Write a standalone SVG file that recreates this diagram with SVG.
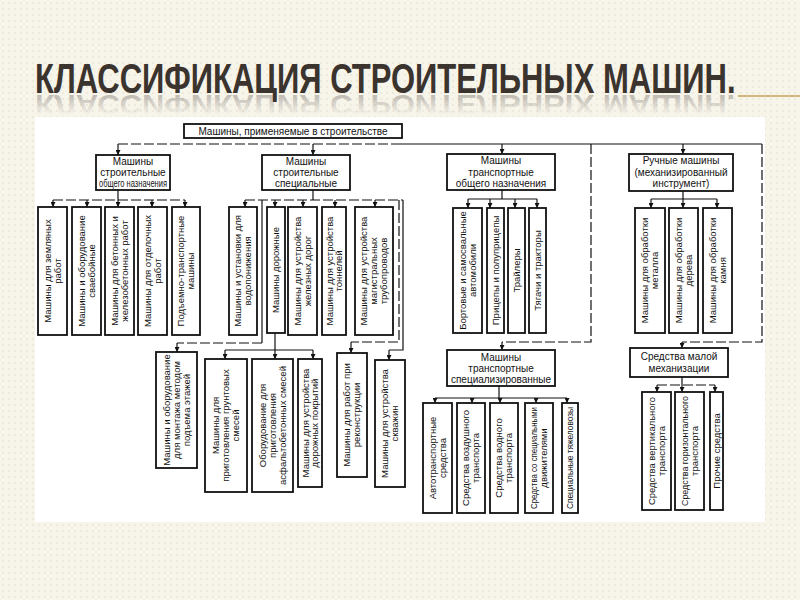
<svg xmlns="http://www.w3.org/2000/svg" width="800" height="600" viewBox="0 0 800 600">
<defs>
<pattern id="dots" width="6" height="6" patternUnits="userSpaceOnUse"><rect width="6" height="6" fill="#f7f4ea"/><circle cx="3" cy="3" r="0.7" fill="#dcd6c6"/></pattern>
<linearGradient id="fade" gradientUnits="userSpaceOnUse" x1="0" y1="0" x2="0" y2="-30"><stop offset="0" stop-color="#3b332e" stop-opacity="0.3"/><stop offset="1" stop-color="#3b332e" stop-opacity="0"/></linearGradient>
<marker id="a" viewBox="0 0 6 6" refX="6" refY="3" markerWidth="5" markerHeight="5" markerUnits="userSpaceOnUse" orient="auto"><path d="M0,0 L6,3 L0,6 z" fill="#111"/></marker>
<style>
.bx{fill:#fff;stroke:#111;stroke-width:1.8}
.ln{fill:none;stroke:#111;stroke-width:1.2}
.ar{fill:none;stroke:#111;stroke-width:1.2;marker-end:url(#a)}
.ds{stroke-dasharray:10 3}
.t{font-family:"Liberation Sans",Arial,sans-serif;font-size:10px;fill:#111;text-anchor:middle}
.v{font-size:9.5px}
.ttl{font-family:"Liberation Sans",Arial,sans-serif;font-weight:bold;font-size:42px}
</style>
</defs>
<rect width="800" height="600" fill="url(#dots)"/>
<rect x="35" y="117" width="730" height="405" fill="#fff"/>

<g id="title">
<text class="ttl" x="0" y="0" transform="translate(35,93) scale(0.738,1)" fill="#3b332e">КЛАССИФИКАЦИЯ СТРОИТЕЛЬНЫХ МАШИН.</text>
<text class="ttl" x="0" y="0" transform="translate(35,95) scale(0.738,-0.65)" fill="url(#fade)">КЛАССИФИКАЦИЯ СТРОИТЕЛЬНЫХ МАШИН.</text>
<line x1="738" y1="96" x2="800" y2="96" stroke="#c9a35a" stroke-width="1.5"/>
</g>

<g id="connectors">
<path class="ln ds" d="M118,144 H400"/>
<path class="ln" d="M400,144 H762"/>
<path class="ar" d="M118,144 V155"/>
<path class="ar" d="M313,144 V155"/>
<path class="ar" d="M502,144 V154"/>
<path class="ar" d="M683,144 V154"/>
<path class="ln ds" d="M591,144 V342 H502"/>
<path class="ar" d="M502,342 V350"/>
<path class="ln ds" d="M762,144 V342 H682"/>
<path class="ar" d="M682,342 V348"/>
<path class="ln" d="M118,190 V200"/>
<path class="ln ds" d="M53,200 H185"/>
<path class="ar" d="M53,200 V207"/><path class="ar" d="M87,200 V207"/><path class="ar" d="M118,200 V207"/><path class="ar" d="M152,200 V207"/><path class="ar" d="M185,200 V207"/>
<path class="ln" d="M313,190 V200"/>
<path class="ln ds" d="M245,200 H403"/>
<path class="ar" d="M245,200 V207"/><path class="ar" d="M275,200 V207"/><path class="ar" d="M303,200 V207"/><path class="ar" d="M335,200 V207"/><path class="ar" d="M375,200 V207"/>
<path class="ln" d="M262,200 V343"/>
<path class="ln ds" d="M262,343 H177"/>
<path class="ar" d="M177,343 V352"/>
<path class="ln" d="M275,333 V350"/>
<path class="ln" d="M225,350 H313"/>
<path class="ar" d="M225,350 V359"/><path class="ar" d="M275,350 V359"/><path class="ar" d="M313,350 V359"/>
<path class="ln ds" d="M399,200 V342 H351"/>
<path class="ar" d="M351,342 V353"/>
<path class="ln" d="M403,200 V350 H389"/>
<path class="ar" d="M389,350 V360"/>
<path class="ln" d="M502,190 V199"/>
<path class="ln" d="M468,199 H537"/>
<path class="ar" d="M468,199 V208"/><path class="ar" d="M490,199 V208"/><path class="ar" d="M515,199 V208"/><path class="ar" d="M537,199 V208"/>
<path class="ln" d="M683,191 V199"/>
<path class="ln" d="M651,199 H717"/>
<path class="ar" d="M651,199 V208"/><path class="ar" d="M683,199 V208"/><path class="ar" d="M717,199 V208"/>
<path class="ln" d="M499,386 V398"/>
<path class="ln" d="M435,398 H567"/>
<path class="ar" d="M435,398 V403"/><path class="ar" d="M472,398 V403"/><path class="ar" d="M500,398 V403"/><path class="ar" d="M536,398 V403"/><path class="ar" d="M567,398 V403"/>
<path class="ln" d="M682,377 V385"/>
<path class="ln ds" d="M657,385 H715"/>
<path class="ar" d="M657,385 V392"/><path class="ar" d="M682,385 V392"/><path class="ar" d="M715,385 V392"/>
</g>

<g id="root"><rect class="bx" x="184" y="124" width="218" height="14"/><text class="t" x="293" y="134.5" font-size="9.5">Машины, применяемые в строительстве</text></g>

<g id="general"><rect class="bx" x="96" y="155" width="74" height="35"/><text class="t" x="133" y="165">Машины</text><text class="t" x="133" y="176">строительные</text><text class="t" x="133" y="187" textLength="68" lengthAdjust="spacingAndGlyphs">общего назначения</text></g>
<g id="special"><rect class="bx" x="262" y="155" width="88" height="35"/><text class="t" x="306" y="165">Машины</text><text class="t" x="306" y="176">строительные</text><text class="t" x="306" y="187">специальные</text></g>
<g id="transport"><rect class="bx" x="447" y="154" width="108" height="36"/><text class="t" x="501" y="164">Машины</text><text class="t" x="501" y="175.5">транспортные</text><text class="t" x="501" y="187">общего назначения</text></g>
<g id="manual"><rect class="bx" x="629" y="154" width="104" height="37"/><text class="t" x="681" y="164">Ручные машины</text><text class="t" x="681" y="175.5">(механизированный</text><text class="t" x="681" y="187">инструмент)</text></g>
<g id="tspec"><rect class="bx" x="447" y="350" width="108" height="36"/><text class="t" x="501" y="361">Машины</text><text class="t" x="501" y="372">транспортные</text><text class="t" x="501" y="383">специализированные</text></g>
<g id="smallmech"><rect class="bx" x="630" y="348" width="98" height="29"/><text class="t" x="679" y="360">Средства малой</text><text class="t" x="679" y="372">механизации</text></g>

<g id="a1"><rect class="bx" x="38" y="207" width="29" height="128"/><text class="t v" transform="translate(52.5,271) rotate(-90)"><tspan x="0" y="-1.8">Машины для земляных</tspan><tspan x="0" y="8.2">работ</tspan></text></g>
<g id="a2"><rect class="bx" x="72" y="207" width="29" height="128"/><text class="t v" transform="translate(86.5,271) rotate(-90)"><tspan x="0" y="-1.8">Машины и оборудование</tspan><tspan x="0" y="8.2">сваебойные</tspan></text></g>
<g id="a3"><rect class="bx" x="105" y="207" width="29" height="128"/><text class="t v" transform="translate(119.5,271) rotate(-90)"><tspan x="0" y="-1.8">Машины для бетонных и</tspan><tspan x="0" y="8.2">железобетонных работ</tspan></text></g>
<g id="a4"><rect class="bx" x="138" y="207" width="29" height="128"/><text class="t v" transform="translate(152.5,271) rotate(-90)"><tspan x="0" y="-1.8">Машины для отделочных</tspan><tspan x="0" y="8.2">работ</tspan></text></g>
<g id="a5"><rect class="bx" x="172" y="207" width="28" height="128"/><text class="t v" transform="translate(186,271) rotate(-90)"><tspan x="0" y="-1.8">Подъемно-транспортные</tspan><tspan x="0" y="8.2">машины</tspan></text></g>

<g id="b1"><rect class="bx" x="229" y="207" width="28" height="128"/><text class="t v" transform="translate(243,271) rotate(-90)"><tspan x="0" y="-1.8">Машины и установки для</tspan><tspan x="0" y="8.2">водопонижения</tspan></text></g>
<g id="b2"><rect class="bx" x="267" y="207" width="18" height="126"/><text class="t v" transform="translate(276,270) rotate(-90)"><tspan x="0" y="3.3">Машины дорожные</tspan></text></g>
<g id="b3"><rect class="bx" x="288" y="207" width="29" height="128"/><text class="t v" transform="translate(302.5,271) rotate(-90)"><tspan x="0" y="-1.8">Машины для устройства</tspan><tspan x="0" y="8.2">железных дорог</tspan></text></g>
<g id="b4"><rect class="bx" x="322" y="207" width="24" height="128"/><text class="t v" transform="translate(334,271) rotate(-90)"><tspan x="0" y="-1.5">Машины для устройства</tspan><tspan x="0" y="7.8">тоннелей</tspan></text></g>
<g id="b5"><rect class="bx" x="355" y="207" width="38" height="128"/><text class="t v" transform="translate(374,271) rotate(-90)"><tspan x="0" y="-6.8">Машины для устройства</tspan><tspan x="0" y="3.3">магистральных</tspan><tspan x="0" y="13.3">трубопроводов</tspan></text></g>

<g id="c1"><rect class="bx" x="453" y="208" width="29" height="125"/><text class="t v" transform="translate(467.5,270.5) rotate(-90)"><tspan x="0" y="-1.8">Бортовые и самосвальные</tspan><tspan x="0" y="8.2">автомобили</tspan></text></g>
<g id="c2"><rect class="bx" x="487" y="208" width="17" height="125"/><text class="t v" transform="translate(495.5,270.5) rotate(-90)"><tspan x="0" y="3.3">Прицепы и полуприцепы</tspan></text></g>
<g id="c3"><rect class="bx" x="508" y="208" width="17" height="125"/><text class="t v" transform="translate(516.5,270.5) rotate(-90)"><tspan x="0" y="3.3">Трайлеры</tspan></text></g>
<g id="c4"><rect class="bx" x="529" y="208" width="17" height="125"/><text class="t v" transform="translate(537.5,270.5) rotate(-90)"><tspan x="0" y="3.3">Тягачи и тракторы</tspan></text></g>

<g id="d1"><rect class="bx" x="635" y="208" width="30" height="125"/><text class="t v" transform="translate(650,270.5) rotate(-90)"><tspan x="0" y="-1.8">Машины для обработки</tspan><tspan x="0" y="8.2">металла</tspan></text></g>
<g id="d2"><rect class="bx" x="669" y="208" width="29" height="125"/><text class="t v" transform="translate(683.5,270.5) rotate(-90)"><tspan x="0" y="-1.8">Машины для обработки</tspan><tspan x="0" y="8.2">дерева</tspan></text></g>
<g id="d3"><rect class="bx" x="703" y="208" width="29" height="125"/><text class="t v" transform="translate(717.5,270.5) rotate(-90)"><tspan x="0" y="-1.8">Машины для обработки</tspan><tspan x="0" y="8.2">камня</tspan></text></g>

<g id="e1"><rect class="bx" x="156" y="352" width="41" height="116"/><text class="t v" transform="translate(176.5,410) rotate(-90)"><tspan x="0" y="-6.8">Машины и оборудование</tspan><tspan x="0" y="3.3">для монтажа методом</tspan><tspan x="0" y="13.3">подъема этажей</tspan></text></g>
<g id="e2"><rect class="bx" x="205" y="359" width="42" height="133"/><text class="t v" transform="translate(226,425.5) rotate(-90)"><tspan x="0" y="-6.8">Машины для</tspan><tspan x="0" y="3.3">приготовления грунтовых</tspan><tspan x="0" y="13.3">смесей</tspan></text></g>
<g id="e3"><rect class="bx" x="252" y="359" width="41" height="133"/><text class="t v" transform="translate(272.5,425.5) rotate(-90)"><tspan x="0" y="-6.8">Оборудование для</tspan><tspan x="0" y="3.3">приготовления</tspan><tspan x="0" y="13.3">асфальтобетонных смесей</tspan></text></g>
<g id="e4"><rect class="bx" x="298" y="359" width="24" height="128"/><text class="t v" transform="translate(310,423) rotate(-90)"><tspan x="0" y="-1.5">Машины для устройства</tspan><tspan x="0" y="7.8">дорожных покрытий</tspan></text></g>
<g id="e5"><rect class="bx" x="337" y="353" width="30" height="124"/><text class="t v" transform="translate(352,415) rotate(-90)"><tspan x="0" y="-1.8">Машины для работ при</tspan><tspan x="0" y="8.2">реконструкции</tspan></text></g>
<g id="e6"><rect class="bx" x="375" y="360" width="30" height="127"/><text class="t v" transform="translate(390,423.5) rotate(-90)"><tspan x="0" y="-1.8">Машины для устройства</tspan><tspan x="0" y="8.2">скважин</tspan></text></g>

<g id="f1"><rect class="bx" x="423" y="403" width="29" height="110"/><text class="t v" transform="translate(437.5,458) rotate(-90)"><tspan x="0" y="-1.8">Автотранспортные</tspan><tspan x="0" y="8.2">средства</tspan></text></g>
<g id="f2"><rect class="bx" x="457" y="403" width="28" height="110"/><text class="t v" transform="translate(471,458) rotate(-90)"><tspan x="0" y="-1.8">Средства воздушного</tspan><tspan x="0" y="8.2">транспорта</tspan></text></g>
<g id="f3"><rect class="bx" x="490" y="403" width="28" height="110"/><text class="t v" transform="translate(504,458) rotate(-90)"><tspan x="0" y="-1.8">Средства водного</tspan><tspan x="0" y="8.2">транспорта</tspan></text></g>
<g id="f4"><rect class="bx" x="525" y="403" width="28" height="110"/><text class="t v" transform="translate(539,458) rotate(-90)"><tspan x="0" y="-1.8" textLength="102" lengthAdjust="spacingAndGlyphs">Средства со специальными</tspan><tspan x="0" y="8.2">движителями</tspan></text></g>
<g id="f5"><rect class="bx" x="562" y="403" width="16" height="110"/><text class="t v" transform="translate(570,458) rotate(-90)"><tspan x="0" y="3.3" textLength="102" lengthAdjust="spacingAndGlyphs">Специальные тяжеловозы</tspan></text></g>

<g id="g1"><rect class="bx" x="642" y="392" width="29" height="118"/><text class="t v" transform="translate(656.5,451) rotate(-90)"><tspan x="0" y="-1.8" textLength="108" lengthAdjust="spacingAndGlyphs">Средства вертикального</tspan><tspan x="0" y="8.2">транспорта</tspan></text></g>
<g id="g2"><rect class="bx" x="675" y="392" width="29" height="118"/><text class="t v" transform="translate(689.5,451) rotate(-90)"><tspan x="0" y="-1.8" textLength="110" lengthAdjust="spacingAndGlyphs">Средства горизонтального</tspan><tspan x="0" y="8.2">транспорта</tspan></text></g>
<g id="g3"><rect class="bx" x="710" y="392" width="13" height="118"/><text class="t v" transform="translate(716.5,451) rotate(-90)"><tspan x="0" y="3.3">Прочие средства</tspan></text></g>
</svg>
